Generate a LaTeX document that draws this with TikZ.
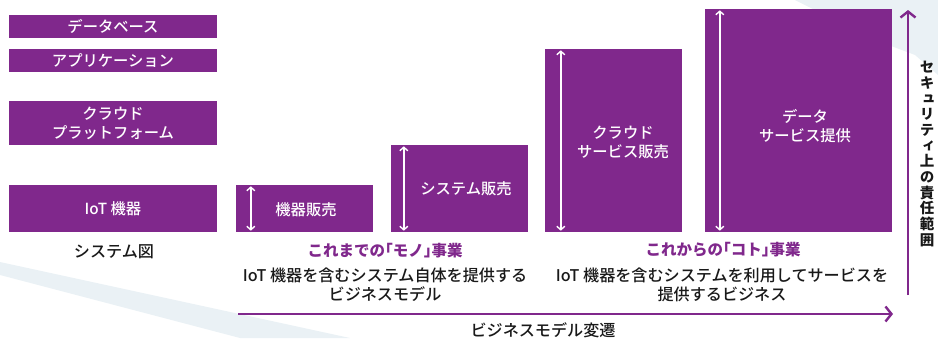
\documentclass[tikz,border=0pt]{standalone}
\usepackage{fontspec}
\setmainfont{Noto Sans CJK JP}
\newfontfamily\medfont{Noto Sans CJK JP Medium}
\newfontfamily\ttlfont{Noto Sans CJK JP}[RawFeature=+halt]
\newfontfamily\vfont{Noto Sans CJK JP}[RawFeature=+vert]
\usetikzlibrary{arrows.meta}
\definecolor{purp}{RGB}{128,40,140}
\definecolor{bgband}{RGB}{234,241,245}
\definecolor{txt}{RGB}{25,25,25}
\begin{document}
\begin{tikzpicture}[x=1pt,y=-1pt,
  box/.style={fill=purp,text=white,inner sep=0pt,align=center,
    font=\medfont\fontsize{15.3}{19}\selectfont},
  inarrow/.style={draw=white,line width=1.4pt,
    {Straight Barb[length=3.5pt,width=8pt]}-{Straight Barb[length=3.5pt,width=8pt]}},
  mainarrow/.style={draw=purp,line width=2.4pt,-{Straight Barb[length=6pt,width=15pt,line width=2.4pt]}},
  desc/.style={text=txt,align=center,font=\medfont\fontsize{16.1}{19}\selectfont},
  ttl/.style={text=purp,font=\ttlfont\bfseries\fontsize{15.5}{19}\selectfont}]
\useasboundingbox (0,0) rectangle (938,338);
% background swooshes
\fill[bgband] (0,262) -- (350,338) -- (240,338) -- (0,275) -- cycle;
\fill[bgband] (795,0) -- (938,0) -- (938,75) -- (915,55) -- (870,38) -- cycle;
% left column
\node[box,minimum width=208pt,minimum height=23pt] (db) at (113,26.5) {データベース};
\node[box,minimum width=208pt,minimum height=23pt] (app) at (113,60.5) {アプリケーション};
\node[box,minimum width=208pt,minimum height=44pt] (cp) at (113,123) {クラウド\\プラットフォーム};
\node[box,minimum width=208pt,minimum height=47pt] (iot) at (113,208.5) {IoT 機器};
\node[desc,anchor=center] (sys) at (114,252) {システム図};
% middle boxes
\node[box,minimum width=137pt,minimum height=47pt] (b1) at (304.5,208.5) {};
\node[box] (l1) at (306,210) {機器販売};
\draw[inarrow] ([xshift=15pt,yshift=-1.5pt]b1.north west) -- ([xshift=15pt,yshift=1.5pt]b1.south west);
\node[box,minimum width=137pt,minimum height=87pt] (b2) at (459.5,188.5) {};
\node[box] (l2) at (466,189) {システム販売};
\draw[inarrow] ([xshift=13pt,yshift=-1.5pt]b2.north west) -- ([xshift=13pt,yshift=1.5pt]b2.south west);
% right boxes
\node[box,minimum width=137pt,minimum height=183pt] (b3) at (613.5,140.5) {};
\node[box] (l3) at (623,142) {クラウド\\サービス販売};
\draw[inarrow] ([xshift=16pt,yshift=-1.5pt]b3.north west) -- ([xshift=16pt,yshift=1.5pt]b3.south west);
\node[box,minimum width=187pt,minimum height=223pt] (b4) at (798.5,120.5) {};
\node[box] (l4) at (805,126) {データ\\サービス提供};
\draw[inarrow] ([xshift=15pt,yshift=-1.5pt]b4.north west) -- ([xshift=15pt,yshift=1.5pt]b4.south west);
% titles and descriptions
\node[ttl] (t1) at (385,251) {これまでの「モノ」事業};
\node[desc] (d1) at (385,285) {IoT 機器を含むシステム自体を提供する\\ビジネスモデル};
\node[ttl] (t2) at (723,250) {これからの「コト」事業};
\node[desc] (d2) at (722,285) {IoT 機器を含むシステムを利用してサービスを\\提供するビジネス};
% main arrows
\coordinate (hs) at (238,314);
\coordinate (he) at (893,314);
\draw[mainarrow] (hs) -- (he);
\node[desc] (hl) at (543,330) {ビジネスモデル変遷};
\coordinate (vs) at (908,295);
\coordinate (ve) at (908,10);
\draw[mainarrow] (vs) -- (ve);
\node[text=txt,align=center,inner sep=0pt,font=\vfont\bfseries\fontsize{14.5}{15.7}\selectfont] (vl) at (927,154)
  {セ\\キ\\ュ\\リ\\テ\\ィ\\上\\の\\責\\任\\範\\囲};
\end{tikzpicture}
\end{document}
